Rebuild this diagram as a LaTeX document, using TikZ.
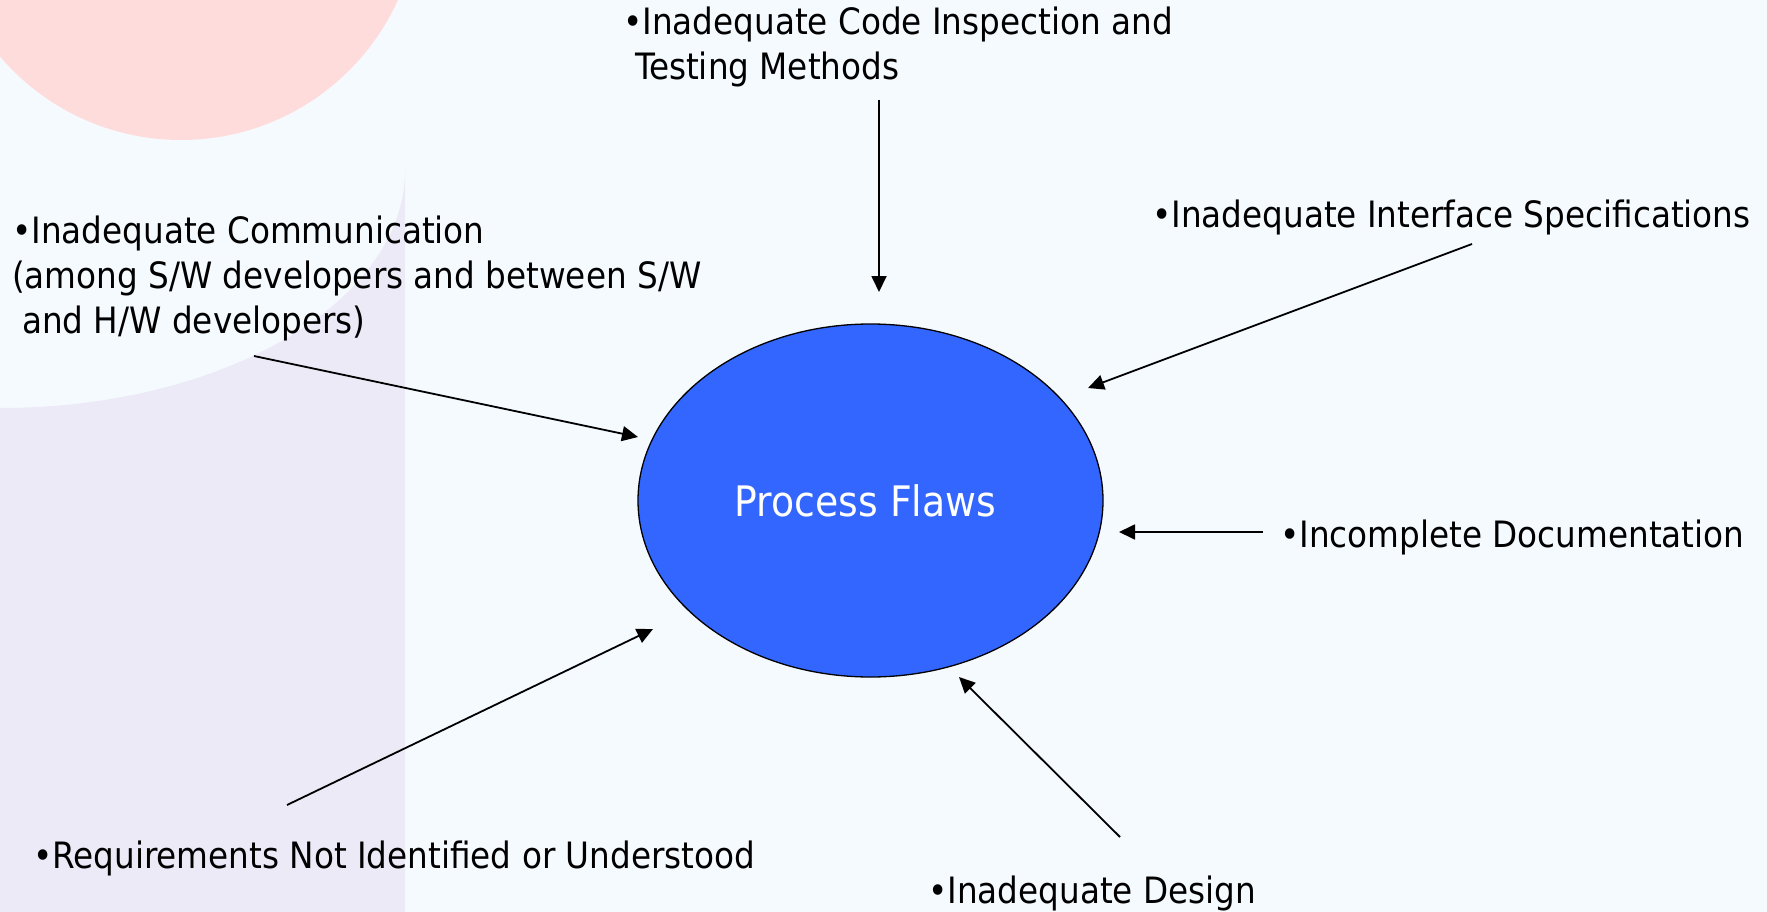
\documentclass[tikz,border=0pt]{standalone}
\usepackage{fontspec}
\setmainfont{DejaVu Sans Condensed}
\usetikzlibrary{arrows.meta,shapes.geometric}

\definecolor{slidebg}{HTML}{F5FAFF}
\definecolor{slidepink}{HTML}{FFDCDC}
\definecolor{slidelav}{HTML}{EDEAF8}
\definecolor{flawblue}{HTML}{3366FF}

\newcommand{\causefont}{\fontsize{36.3}{45}\selectfont}
\newcommand{\flawfont}{\fontsize{42}{50}\selectfont}

\tikzstyle{cause} = [anchor=base west, inner sep=0pt, align=left, font=\causefont]
\tikzstyle{flaw} = [ellipse, draw, line width=1.3pt, fill=flawblue, text=white,
    minimum width=465pt, minimum height=353pt, inner sep=0pt, font=\flawfont]
\tikzstyle{feed} = [line width=1.8pt, -{Triangle[length=16pt,width=15pt]}]

\begin{document}
\begin{tikzpicture}[x=1pt,y=-1pt]
	\useasboundingbox (0,0) rectangle (1767,912);
	% slide background
	\begin{scope}
		\clip (0,0) rectangle (1767,912);
		\fill [slidebg] (0,0) rectangle (1767,912);
		\fill [slidepink] (181,-98) circle (238);
		\fill [slidelav] (405,170) -- (405,912) -- (0,912) -- (0,408)
			arc [start angle=90, end angle=0, x radius=405, y radius=238] -- cycle;
	\end{scope}
	%
	\node [flaw] (pf) at (870.5,500.5) {\hspace*{-10pt}Process Flaws};
	%
	% multi-line causes sit on their last baseline
	\node [cause] (code) at (623,80) {•Inadequate Code Inspection and\\\hspace{12pt}Testing Methods};
	\node [cause] (comm) at (12,333) {•Inadequate Communication\\(among S/W developers and between S/W\\\hspace{10pt}and H/W developers)};
	\node [cause] (intf) at (1152,228) {•Inadequate Interface Specifications};
	\node [cause] (docu) at (1280,547) {•Incomplete Documentation};
	\node [cause] (dsgn) at (928,903) {•Inadequate Design};
	\node [cause] (reqs) at (33,868) {•Requirements Not Identified or Understood};
	%
	\coordinate (codes) at (879,100);   \coordinate (codet) at (879,292);
	\coordinate (comms) at (254,356);   \coordinate (commt) at (638,437);
	\coordinate (intfs) at (1472,244);  \coordinate (intft) at (1088,388);
	\coordinate (docus) at (1263,532);  \coordinate (docut) at (1119,532);
	\coordinate (dsgns) at (1120,837);  \coordinate (dsgnt) at (959,677);
	\coordinate (reqss) at (287,805);   \coordinate (reqst) at (653,629);
	%
	\draw [feed] (codes) -- (codet);
	\draw [feed] (comms) -- (commt);
	\draw [feed] (intfs) -- (intft);
	\draw [feed] (docus) -- (docut);
	\draw [feed] (dsgns) -- (dsgnt);
	\draw [feed] (reqss) -- (reqst);
\end{tikzpicture}
\end{document}
